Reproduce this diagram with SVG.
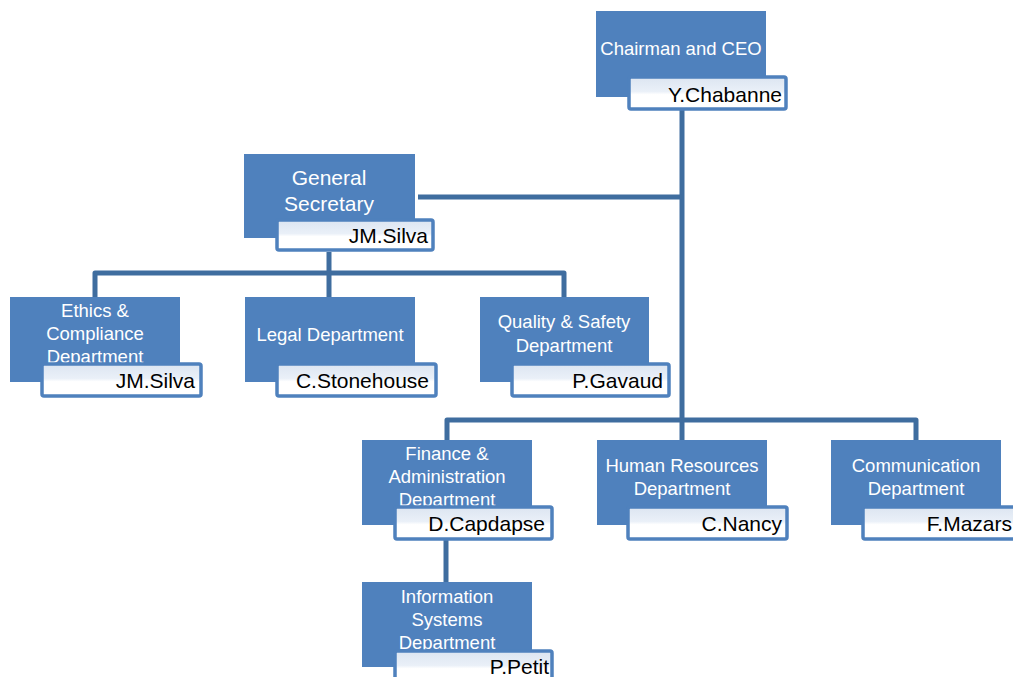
<svg xmlns="http://www.w3.org/2000/svg" width="1013" height="677" viewBox="0 0 1013 677">
<defs>
<linearGradient id="ng" x1="0" y1="0" x2="0" y2="1">
<stop offset="0" stop-color="#DCE5F1"/>
<stop offset="0.45" stop-color="#EAF0F8"/>
<stop offset="0.55" stop-color="#FFFFFF"/>
<stop offset="1" stop-color="#FFFFFF"/>
</linearGradient>
</defs>
<style>
.box{fill:#4F81BD;}
.nb{fill:url(#ng);stroke:#4F81BD;stroke-width:3.5;}
.t{font-family:"Liberation Sans",Arial,sans-serif;fill:#FFFFFF;text-anchor:middle;font-size:18.5px;}
.n{font-family:"Liberation Sans",Arial,sans-serif;fill:#000000;text-anchor:end;font-size:21px;}
.c{fill:none;stroke:#3F6D9F;stroke-width:5;stroke-linejoin:round;}
</style>
<rect width="1013" height="677" fill="#FFFFFF"/>
<g id="connectors">
<path class="c" d="M682 110 V440"/>
<path class="c" d="M418 197 H682"/>
<path class="c" d="M329 252 V273"/>
<path class="c" d="M95 297 V273 H564 V297"/>
<path class="c" d="M329 273 V297"/>
<path class="c" d="M447 440 V420 H916 V440"/>
<path class="c" d="M446 538 V582"/>
</g>
<g id="chairman">
<rect class="box" x="596" y="11" width="170" height="86"/>
<text class="t" x="681" y="55">Chairman and CEO</text>
<rect class="nb" x="629" y="77" width="157" height="32" rx="2"/>
<text class="n" x="782" y="102">Y.Chabanne</text>
</g>
<g id="general-secretary">
<rect class="box" x="244" y="154" width="171" height="84"/>
<text class="t" x="329" y="185" style="font-size:21px">General</text>
<text class="t" x="329" y="211" style="font-size:21px">Secretary</text>
<rect class="nb" x="277" y="220" width="156" height="30" rx="2"/>
<text class="n" x="428" y="243">JM.Silva</text>
</g>
<g id="ethics">
<rect class="box" x="10" y="297" width="170" height="85"/>
<text class="t" x="95" y="317">Ethics &amp;</text>
<text class="t" x="95" y="340">Compliance</text>
<text class="t" x="95" y="363">Department</text>
<rect class="nb" x="42" y="364" width="159" height="32" rx="2"/>
<text class="n" x="195" y="388">JM.Silva</text>
</g>
<g id="legal">
<rect class="box" x="245" y="297" width="170" height="85"/>
<text class="t" x="330" y="341">Legal Department</text>
<rect class="nb" x="277" y="364" width="159" height="32" rx="2"/>
<text class="n" x="429" y="388">C.Stonehouse</text>
</g>
<g id="quality">
<rect class="box" x="480" y="297" width="169" height="85"/>
<text class="t" x="564" y="328">Quality &amp; Safety</text>
<text class="t" x="564" y="352">Department</text>
<rect class="nb" x="512" y="364" width="157" height="32" rx="2"/>
<text class="n" x="663" y="388">P.Gavaud</text>
</g>
<g id="finance">
<rect class="box" x="362" y="440" width="170" height="85"/>
<text class="t" x="447" y="460">Finance &amp;</text>
<text class="t" x="447" y="483">Administration</text>
<text class="t" x="447" y="506">Department</text>
<rect class="nb" x="395" y="507" width="157" height="32" rx="2"/>
<text class="n" x="545" y="531">D.Capdapse</text>
</g>
<g id="hr">
<rect class="box" x="597" y="440" width="170" height="85"/>
<text class="t" x="682" y="472">Human Resources</text>
<text class="t" x="682" y="495">Department</text>
<rect class="nb" x="628" y="507" width="159" height="32" rx="2"/>
<text class="n" x="782" y="531">C.Nancy</text>
</g>
<g id="communication">
<rect class="box" x="831" y="440" width="170" height="85"/>
<text class="t" x="916" y="472">Communication</text>
<text class="t" x="916" y="495">Department</text>
<rect class="nb" x="863" y="507" width="160" height="32" rx="2"/>
<text class="n" x="1012" y="531">F.Mazars</text>
</g>
<g id="information-systems">
<rect class="box" x="362" y="582" width="170" height="85"/>
<text class="t" x="447" y="603">Information</text>
<text class="t" x="447" y="626">Systems</text>
<text class="t" x="447" y="649">Department</text>
<rect class="nb" x="395" y="651" width="157" height="32" rx="2"/>
<text class="n" x="549" y="674">P.Petit</text>
</g>
</svg>
